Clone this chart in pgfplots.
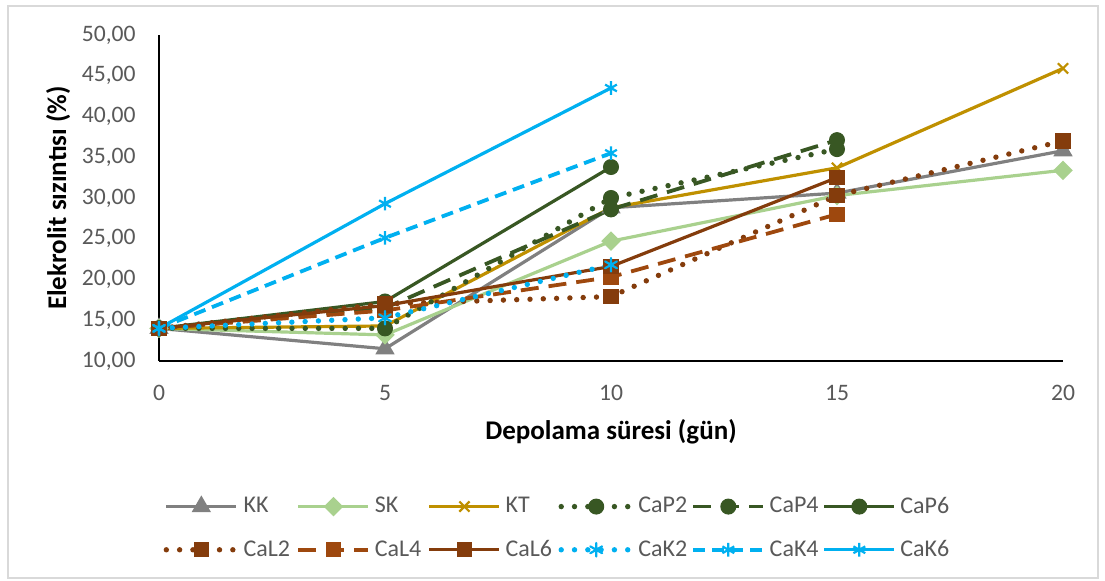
\documentclass[border=0pt]{standalone}
\usepackage{pgfplots}
\pgfplotsset{compat=1.18}
\usepackage{fontspec}
\setmainfont{Carlito}
\definecolor{KKc}{HTML}{808080}
\definecolor{SKc}{HTML}{A9D18E}
\definecolor{KTc}{HTML}{BF9000}
\definecolor{CaPc}{HTML}{385723}
\definecolor{CaLc}{HTML}{843C0C}
\definecolor{CaLb}{HTML}{9E480E}
\definecolor{CaKc}{HTML}{00B0F0}
\definecolor{tickc}{HTML}{595959}
\newcommand{\lt}[1]{\makebox[24pt][l]{#1}}
\begin{document}
\begin{tikzpicture}
\begin{axis}[
  at={(79.5pt,110pt)}, anchor=south west,
  scale only axis, width=452pt, height=163pt,
  xmin=0, xmax=20, ymin=10, ymax=50,
  xtick={0,5,10,15,20}, ytick={10,15,...,50},
  axis x line*=bottom, axis y line*=left,
  axis line style={black, line width=0.9pt},
  major tick length=0pt,
  clip=false,
  font=\fontsize{12}{14.4}\selectfont,
  ticklabel style={text=tickc, font=\fontsize{11.8}{14}\selectfont},
  /pgf/number format/assume math mode=true,
  yticklabel style={/pgf/number format/fixed, /pgf/number format/fixed zerofill, /pgf/number format/precision=2, /pgf/number format/use comma},
  yticklabel style={anchor=east, inner sep=0pt, xshift=-11.5pt},
  xticklabel style={anchor=north, inner sep=0pt, yshift=-12pt},
  every axis x label/.style={at={(axis description cs:0.5,-0.2178)}, anchor=center, font=\fontsize{13.5}{16}\selectfont\bfseries},
  every axis y label/.style={at={(axis description cs:-0.1117,0.5)}, anchor=center, rotate=90, font=\fontsize{13.5}{16}\selectfont\bfseries},
  xlabel={Depolama süresi (gün)},
  ylabel={Elekrolit sızıntısı (\%)},
  legend columns=6,
  legend style={at={(0.4414,-0.5129)}, anchor=center, draw=none, fill=none,
    font=\fontsize{12}{14.4}\selectfont, text=tickc,
    column sep=0.25pt, row sep=8pt, inner sep=0pt,
    /tikz/every even column/.append style={column sep=0.5pt}},
  legend cell align=left,
  legend image code/.code={\draw[mark repeat=2,mark phase=2,#1] plot coordinates {(0pt,0pt) (17.5pt,0pt) (35pt,0pt)};},
  solidl/.style={line width=1.6pt, solid},
  dotl/.style={line width=2.7pt, line cap=round, dash pattern=on 0pt off 6.65pt},
  dashl/.style={line width=1.9pt, dash pattern=on 9pt off 5pt},
  sdashl/.style={line width=1.9pt, dash pattern=on 6pt off 3.5pt},
]
\addplot[KKc, solidl, mark=triangle*, mark size=4pt, mark options={solid}] coordinates {(0,14.0) (5,11.5) (10,28.8) (15,30.6) (20,35.8)};
\addlegendentry{\lt{KK}}
\addplot[SKc, solidl, mark=square*, mark size=2.65pt, mark options={solid, rotate=45}] coordinates {(0,14.0) (5,13.2) (10,24.7) (15,30.3) (20,33.4)};
\addlegendentry{\lt{SK}}
\addplot[KTc, solidl, mark=x, mark size=3.6pt, mark options={solid, line width=1.1pt}] coordinates {(0,14.0) (5,14.3) (10,28.8) (15,33.7) (20,45.9)};
\addlegendentry{\lt{KT}}
\addplot[CaPc, dotl, mark=*, mark size=3.75pt, mark options={solid, line width=0.5pt}] coordinates {(0,14.0) (5,14.0) (10,30.0) (15,36.0)};
\addlegendentry{\lt{CaP2}}
\addplot[CaPc, dashl, mark=*, mark size=3.75pt, mark options={solid, line width=0.5pt}] coordinates {(0,14.0) (5,16.5) (10,28.6) (15,37.1)};
\addlegendentry{\lt{CaP4}}
\addplot[CaPc, solidl, mark=*, mark size=3.75pt, mark options={solid, line width=0.5pt}] coordinates {(0,14.0) (5,17.3) (10,33.8)};
\addlegendentry{\lt{CaP6}}
\addplot[CaLc, dotl, mark=square*, mark size=3.6pt, mark options={solid, line width=0.5pt}] coordinates {(0,14.0) (5,17.0) (10,17.9) (15,30.3) (20,37.0)};
\addlegendentry{\lt{CaL2}}
\addplot[CaLb, dashl, mark=square*, mark size=3.6pt, mark options={solid, line width=0.5pt}] coordinates {(0,14.0) (5,16.2) (10,20.3) (15,28.0)};
\addlegendentry{\lt{CaL4}}
\addplot[CaLc, solidl, mark=square*, mark size=3.6pt, mark options={solid, line width=0.5pt}] coordinates {(0,14.0) (5,16.8) (10,21.6) (15,32.5)};
\addlegendentry{\lt{CaL6}}
\addplot[CaKc, dotl, mark=asterisk, mark size=3.4pt, mark options={solid, line width=1.1pt}] coordinates {(0,14.0) (5,15.3) (10,21.8)};
\addlegendentry{\lt{CaK2}}
\addplot[CaKc, sdashl, mark=asterisk, mark size=3.4pt, mark options={solid, line width=1.1pt}] coordinates {(0,14.0) (5,25.1) (10,35.5)};
\addlegendentry{\lt{CaK4}}
\addplot[CaKc, solidl, mark=asterisk, mark size=3.4pt, mark options={solid, line width=1.1pt}] coordinates {(0,14.0) (5,29.3) (10,43.5)};
\addlegendentry{\lt{CaK6}}
\end{axis}
\draw[gray!30, line width=0.6pt] (4pt,1.5pt) rectangle (549pt,287.5pt);
\pgfresetboundingbox
\useasboundingbox (0,0) rectangle (552.5pt,290.5pt);
\end{tikzpicture}
\end{document}
